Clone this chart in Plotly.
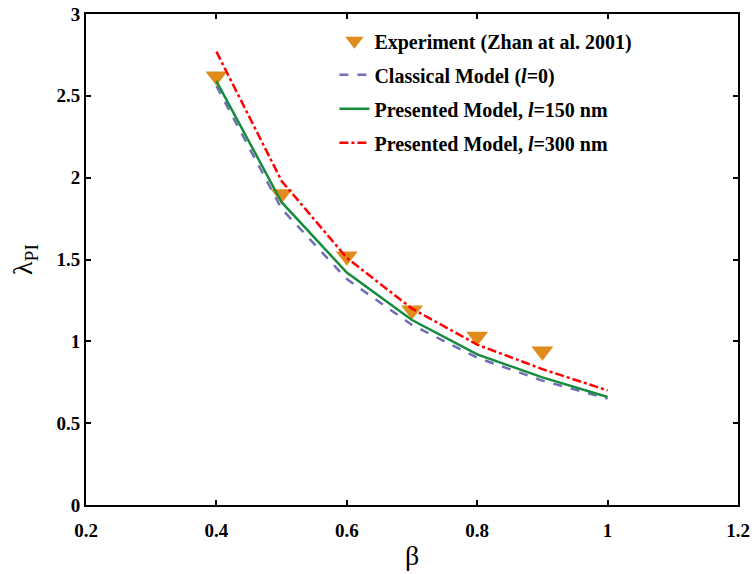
import plotly.graph_objects as go

beta_exp = [0.4, 0.5, 0.6, 0.7, 0.8, 0.9]
lam_exp = [2.62, 1.90, 1.52, 1.19, 1.03, 0.94]

beta_model = [0.4, 0.5, 0.6, 0.7, 0.8, 0.9, 1.0]
lam_classical = [2.56, 1.81, 1.38, 1.10, 0.90, 0.76, 0.65]
lam_l150 = [2.59, 1.85, 1.42, 1.13, 0.92, 0.78, 0.66]
lam_l300 = [2.77, 1.98, 1.51, 1.20, 0.98, 0.83, 0.70]

x_ticks = [0.2, 0.4, 0.6, 0.8, 1.0, 1.2]
x_ticktext = ["0.2", "0.4", "0.6", "0.8", "1", "1.2"]
y_ticks = [0, 0.5, 1, 1.5, 2, 2.5, 3]
y_ticktext = ["0", "0.5", "1", "1.5", "2", "2.5", "3"]

FONT = "Liberation Serif"

fig = go.Figure()
fig.add_trace(go.Scatter(
    x=beta_exp, y=lam_exp, mode="markers", legendgroup="a",
    name="<b>Experiment (Zhan at al. 2001)</b>",
    marker=dict(symbol="triangle-down", size=19, color="#E08B1C",
                line=dict(width=0)),
))
fig.add_trace(go.Scatter(
    x=beta_model, y=lam_classical, mode="lines", legendgroup="b",
    name="<b>Classical Model (<i>l</i>=0)</b>",
    line=dict(color="#6F6FB5", width=2.5, dash="dash"),
))
fig.add_trace(go.Scatter(
    x=beta_model, y=lam_l150, mode="lines", legendgroup="c",
    name="<b>Presented Model, <i>l</i>=150 nm</b>",
    line=dict(color="#148C3C", width=2.5),
))
fig.add_trace(go.Scatter(
    x=beta_model, y=lam_l300, mode="lines", legendgroup="d",
    name="<b>Presented Model, <i>l</i>=300 nm</b>",
    line=dict(color="#FF0000", width=2.5, dash="dashdot"),
))

axis_common = dict(
    showline=True, linecolor="black", linewidth=2, mirror="ticks",
    ticks="inside", ticklen=5, tickwidth=2, tickcolor="black",
    showgrid=False, zeroline=False, automargin=False,
    tickfont=dict(family=FONT, size=19, color="black", weight="bold"),
)

fig.update_layout(
    width=756, height=574,
    margin=dict(l=86, r=18, t=14, b=69),
    paper_bgcolor="white", plot_bgcolor="white",
    xaxis=dict(range=[0.2, 1.2], tickvals=x_ticks, ticktext=x_ticktext,
               ticklabelstandoff=7,
               title=dict(text="β", font=dict(family=FONT, size=28, color="black"),
                          standoff=6),
               **axis_common),
    yaxis=dict(range=[0, 3], tickvals=y_ticks, ticktext=y_ticktext,
               title=dict(text="λ<sub>PI</sub>", font=dict(family=FONT, size=28, color="black"),
                          standoff=16),
               **axis_common),
    legend=dict(x=0.381, y=0.985, xanchor="left", yanchor="top",
                bgcolor="rgba(0,0,0,0)", borderwidth=0,
                font=dict(family=FONT, size=20, color="black"),
                itemwidth=30, tracegroupgap=5, traceorder="grouped"),
    showlegend=True,
)

fig.write_html("out.html", config={"displayModeBar": False},
               post_script="document.body.style.margin='0';")
